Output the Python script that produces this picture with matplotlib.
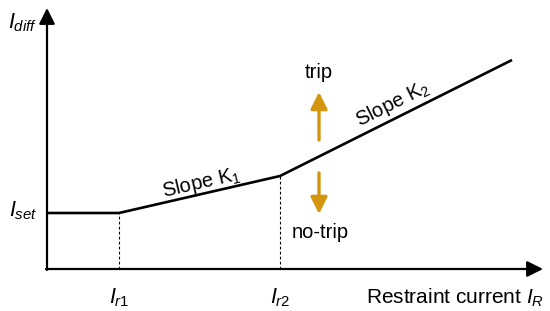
import matplotlib.pyplot as plt

plt.rcParams['font.family'] = ['Liberation Sans', 'DejaVu Sans']
plt.rcParams['mathtext.fontset'] = 'custom'
plt.rcParams['mathtext.rm'] = 'Liberation Sans'
plt.rcParams['mathtext.it'] = 'Liberation Sans:italic'

# characteristic curve (arbitrary units, origin at the axes corner)
curve_x = [0, 72, 233, 465]
curve_y = [56, 56, 93, 209]
Ir1, Ir2 = 72, 233
Iset = 56
x_end, y_end = 496, 261
arrow_x = 272
trip_arrow = (129, 177)
notrip_arrow = (96, 55)

fig = plt.figure(figsize=(5.5, 3.11), dpi=100)
ax = fig.add_axes([0, 0, 1, 1])
ax.set_xlim(-47, 503)
ax.set_ylim(-42, 269)
ax.axis('off')

# axes with arrow heads
ax.annotate('', xy=(x_end, 0), xytext=(-1, 0),
            arrowprops=dict(arrowstyle='-|>', color='black', lw=1.6,
                            mutation_scale=24, shrinkA=0, shrinkB=0))
ax.annotate('', xy=(0, y_end), xytext=(0, -1),
            arrowprops=dict(arrowstyle='-|>', color='black', lw=1.6,
                            mutation_scale=24, shrinkA=0, shrinkB=0))

# curve
ax.plot(curve_x, curve_y, color='black', lw=1.9, solid_capstyle='butt')

# dashed drop lines
ax.plot([Ir1, Ir1], [0, curve_y[1]], color='black', lw=0.8, ls=(0, (2.5, 2)))
ax.plot([Ir2, Ir2], [0, curve_y[2]], color='black', lw=0.8, ls=(0, (2.5, 2)))

# trip / no-trip arrows
orange = '#D4950F'
ax.annotate('', xy=(arrow_x, trip_arrow[1]), xytext=(arrow_x, trip_arrow[0]),
            arrowprops=dict(arrowstyle='-|>', color=orange, lw=2.4,
                            mutation_scale=25, shrinkA=0, shrinkB=0))
ax.annotate('', xy=(arrow_x, notrip_arrow[1]), xytext=(arrow_x, notrip_arrow[0]),
            arrowprops=dict(arrowstyle='-|>', color=orange, lw=2.4,
                            mutation_scale=25, shrinkA=0, shrinkB=0))
ax.text(arrow_x, 196, 'trip', fontsize=14.5, ha='center', va='center')
ax.text(arrow_x + 1, 36, 'no-trip', fontsize=14.5, ha='center', va='center')

# slope labels
ax.text(154, 86, r'Slope K$_1$', fontsize=14.5, ha='center', va='center', rotation=13)
ax.text(346, 165, r'Slope K$_2$', fontsize=14.5, ha='center', va='center', rotation=26.5)

# axis labels
ax.text(-24, 246, r'$I_{diff}$', fontsize=15.5, ha='center', va='center')
ax.text(-24, Iset + 2, r'$I_{set}$', fontsize=15.5, ha='center', va='center')
ax.text(Ir1, -29, r'$I_{r1}$', fontsize=15.5, ha='center', va='center')
ax.text(Ir2, -29, r'$I_{r2}$', fontsize=15.5, ha='center', va='center')
ax.text(497, -29, r'Restraint current $I_R$', fontsize=15, ha='right', va='center')

fig.savefig('out.png', dpi=100)
